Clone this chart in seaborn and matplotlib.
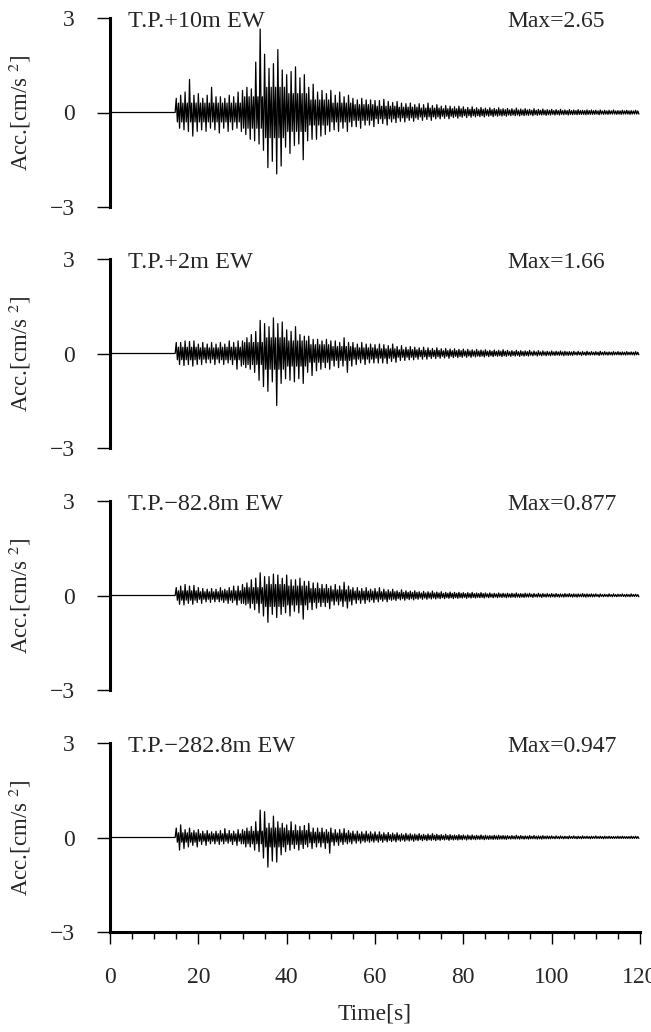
import numpy as np
import matplotlib
matplotlib.use('Agg')
import matplotlib.pyplot as plt
from matplotlib.ticker import MultipleLocator
import seaborn as sns

sns.set_style('ticks')
plt.rcParams['font.family'] = ['Liberation Serif', 'DejaVu Serif']
plt.rcParams['mathtext.fontset'] = 'stix'
plt.rcParams['axes.unicode_minus'] = True

# station names and peak values
stations = ['T.P.+10m EW', 'T.P.+2m EW', 'T.P.\u221282.8m EW', 'T.P.\u2212282.8m EW']
max_text = ['Max=2.65', 'Max=1.66', 'Max=0.877', 'Max=0.947']

# peak (upper) and trough (lower) acceleration read for each second, t = 0..119 s
up_1 = [0.0] * 15 + [
    0.45, 0.55, 0.65, 1.05, 0.55, 0.6, 0.45, 0.55, 0.8, 0.5,
    0.5, 0.45, 0.55, 0.5, 0.65, 0.7, 0.8, 0.75, 1.6, 2.65,
    1.85, 1.4, 1.55, 2.0, 1.35, 1.2, 1.3, 1.45, 1.1, 1.2,
    0.8, 0.9, 0.65, 0.7, 0.6, 0.7, 0.55, 0.65, 0.5, 0.55,
    0.45, 0.4, 0.45, 0.4, 0.4, 0.38,
    0.38, 0.42, 0.35, 0.32, 0.35, 0.3, 0.28, 0.3, 0.25, 0.28,
    0.25, 0.3, 0.22, 0.25, 0.2, 0.22, 0.2, 0.18, 0.2, 0.18,
    0.16, 0.18, 0.15, 0.16, 0.14, 0.15, 0.13, 0.15, 0.12, 0.13,
    0.12, 0.14, 0.11, 0.12, 0.1, 0.12, 0.1, 0.11, 0.09, 0.1,
    0.09, 0.1, 0.08, 0.09, 0.08, 0.09, 0.07, 0.08, 0.08, 0.07,
    0.08, 0.07, 0.07, 0.08, 0.06, 0.07, 0.07, 0.06, 0.07]
lo_1 = [0.0] * 15 + [
    -0.5, -0.55, -0.6, -0.75, -0.6, -0.55, -0.6, -0.5, -0.55, -0.65,
    -0.5, -0.6, -0.55, -0.5, -0.6, -0.7, -0.85, -0.9, -1.0, -1.2,
    -1.75, -1.55, -1.95, -1.7, -1.1, -1.3, -1.05, -1.0, -1.5, -0.9,
    -0.85, -0.85, -0.75, -0.7, -0.6, -0.55, -0.6, -0.5, -0.6, -0.45,
    -0.45, -0.5, -0.4, -0.4, -0.45, -0.35,
    -0.35, -0.4, -0.3, -0.32, -0.28, -0.3, -0.25, -0.28, -0.22, -0.25,
    -0.22, -0.25, -0.2, -0.2, -0.18, -0.2, -0.16, -0.18, -0.15, -0.16,
    -0.15, -0.14, -0.13, -0.14, -0.12, -0.13, -0.12, -0.11, -0.12, -0.1,
    -0.1, -0.11, -0.1, -0.09, -0.1, -0.09, -0.08, -0.09, -0.08, -0.08,
    -0.08, -0.07, -0.08, -0.07, -0.07, -0.06, -0.07, -0.06, -0.06, -0.07,
    -0.06, -0.06, -0.05, -0.06, -0.06, -0.05, -0.06, -0.05, -0.05]

up_2 = [0.0] * 15 + [
    0.35, 0.35, 0.4, 0.38, 0.4, 0.3, 0.35, 0.3, 0.35, 0.3,
    0.35, 0.3, 0.4, 0.35, 0.4, 0.4, 0.5, 0.6, 0.7, 1.05,
    0.95, 0.85, 1.13, 0.95, 1.0, 0.75, 0.7, 0.85, 0.6, 0.55,
    0.55, 0.45, 0.45, 0.4, 0.45, 0.4, 0.4, 0.35, 0.5, 0.35,
    0.35, 0.3, 0.35, 0.3, 0.3, 0.28,
    0.3, 0.28, 0.25, 0.3, 0.22, 0.25, 0.2, 0.22, 0.2, 0.18,
    0.2, 0.18, 0.16, 0.18, 0.15, 0.16, 0.14, 0.15, 0.13, 0.14,
    0.13, 0.12, 0.13, 0.11, 0.12, 0.1, 0.11, 0.1, 0.12, 0.1,
    0.09, 0.1, 0.09, 0.08, 0.1, 0.08, 0.09, 0.08, 0.07, 0.08,
    0.07, 0.08, 0.07, 0.06, 0.07, 0.07, 0.06, 0.07, 0.06, 0.06,
    0.07, 0.06, 0.05, 0.06, 0.06, 0.05, 0.06, 0.05, 0.06]
lo_2 = [0.0] * 15 + [
    -0.35, -0.38, -0.35, -0.4, -0.35, -0.35, -0.3, -0.3, -0.35, -0.3,
    -0.35, -0.3, -0.35, -0.5, -0.4, -0.45, -0.5, -0.6, -0.85, -1.05,
    -1.2, -0.9, -1.65, -0.95, -0.8, -0.85, -0.9, -0.8, -0.95, -0.6,
    -0.7, -0.55, -0.5, -0.45, -0.5, -0.4, -0.45, -0.4, -0.6, -0.4,
    -0.35, -0.3, -0.35, -0.3, -0.3, -0.3,
    -0.3, -0.32, -0.25, -0.28, -0.22, -0.22, -0.2, -0.2, -0.18, -0.18,
    -0.18, -0.16, -0.16, -0.15, -0.14, -0.15, -0.13, -0.13, -0.12, -0.12,
    -0.12, -0.11, -0.1, -0.11, -0.1, -0.1, -0.09, -0.1, -0.09, -0.09,
    -0.08, -0.09, -0.08, -0.08, -0.07, -0.08, -0.07, -0.07, -0.07, -0.06,
    -0.06, -0.07, -0.06, -0.06, -0.05, -0.06, -0.06, -0.05, -0.05, -0.06,
    -0.05, -0.05, -0.05, -0.04, -0.05, -0.05, -0.04, -0.05, -0.04]

up_3 = [0.0] * 15 + [
    0.25, 0.3, 0.35, 0.3, 0.32, 0.25, 0.22, 0.2, 0.22, 0.2,
    0.25, 0.2, 0.25, 0.3, 0.3, 0.35, 0.4, 0.5, 0.55, 0.72,
    0.6, 0.6, 0.68, 0.65, 0.55, 0.65, 0.5, 0.5, 0.55, 0.45,
    0.45, 0.4, 0.4, 0.35, 0.35, 0.3, 0.35, 0.3, 0.42, 0.3,
    0.25, 0.25, 0.22, 0.25, 0.2, 0.22,
    0.25, 0.2, 0.18, 0.2, 0.15, 0.18, 0.15, 0.14, 0.15, 0.12,
    0.13, 0.12, 0.14, 0.11, 0.12, 0.1, 0.11, 0.1, 0.1, 0.09,
    0.09, 0.1, 0.08, 0.09, 0.08, 0.08, 0.07, 0.08, 0.07, 0.07,
    0.07, 0.08, 0.06, 0.07, 0.07, 0.06, 0.07, 0.06, 0.06, 0.06,
    0.06, 0.05, 0.06, 0.06, 0.05, 0.05, 0.06, 0.05, 0.05, 0.05,
    0.05, 0.04, 0.05, 0.05, 0.04, 0.05, 0.04, 0.05, 0.04]
lo_3 = [0.0] * 15 + [
    -0.28, -0.3, -0.25, -0.28, -0.22, -0.25, -0.2, -0.22, -0.2, -0.2,
    -0.22, -0.25, -0.22, -0.3, -0.25, -0.3, -0.4, -0.45, -0.55, -0.65,
    -0.85, -0.6, -0.7, -0.6, -0.55, -0.65, -0.5, -0.55, -0.75, -0.45,
    -0.45, -0.4, -0.35, -0.35, -0.42, -0.3, -0.3, -0.35, -0.4, -0.3,
    -0.25, -0.25, -0.25, -0.2, -0.22, -0.2,
    -0.18, -0.2, -0.15, -0.16, -0.14, -0.15, -0.13, -0.14, -0.12, -0.12,
    -0.12, -0.11, -0.11, -0.1, -0.1, -0.09, -0.1, -0.09, -0.08, -0.09,
    -0.08, -0.08, -0.07, -0.08, -0.07, -0.07, -0.07, -0.06, -0.07, -0.06,
    -0.06, -0.06, -0.06, -0.05, -0.06, -0.05, -0.06, -0.05, -0.05, -0.05,
    -0.05, -0.05, -0.04, -0.05, -0.05, -0.04, -0.05, -0.04, -0.04, -0.05,
    -0.04, -0.04, -0.04, -0.04, -0.03, -0.04, -0.04, -0.03, -0.04]

up_4 = [0.0] * 15 + [
    0.3, 0.4, 0.25, 0.3, 0.22, 0.25, 0.2, 0.22, 0.18, 0.2,
    0.22, 0.28, 0.22, 0.2, 0.25, 0.25, 0.3, 0.35, 0.5, 0.87,
    0.82, 0.45, 0.68, 0.5, 0.45, 0.4, 0.5, 0.4, 0.35, 0.38,
    0.45, 0.3, 0.3, 0.3, 0.25, 0.3, 0.25, 0.25, 0.28, 0.22,
    0.2, 0.2, 0.18, 0.2, 0.18, 0.18,
    0.18, 0.15, 0.16, 0.14, 0.15, 0.12, 0.13, 0.12, 0.11, 0.12,
    0.1, 0.11, 0.12, 0.1, 0.09, 0.1, 0.09, 0.08, 0.09, 0.08,
    0.08, 0.08, 0.07, 0.08, 0.07, 0.06, 0.07, 0.07, 0.06, 0.06,
    0.06, 0.07, 0.06, 0.05, 0.06, 0.06, 0.05, 0.06, 0.05, 0.05,
    0.05, 0.05, 0.04, 0.05, 0.05, 0.04, 0.05, 0.04, 0.04, 0.05,
    0.04, 0.04, 0.04, 0.03, 0.04, 0.04, 0.03, 0.04, 0.04]
lo_4 = [0.0] * 15 + [
    -0.4, -0.35, -0.3, -0.25, -0.3, -0.22, -0.25, -0.2, -0.2, -0.22,
    -0.2, -0.18, -0.22, -0.25, -0.2, -0.3, -0.3, -0.4, -0.45, -0.65,
    -0.94, -0.75, -0.78, -0.55, -0.45, -0.4, -0.35, -0.4, -0.35, -0.3,
    -0.35, -0.3, -0.3, -0.35, -0.5, -0.25, -0.25, -0.22, -0.2, -0.2,
    -0.18, -0.18, -0.15, -0.15, -0.15, -0.15,
    -0.15, -0.14, -0.13, -0.14, -0.12, -0.12, -0.11, -0.12, -0.1, -0.1,
    -0.1, -0.09, -0.1, -0.09, -0.08, -0.09, -0.08, -0.08, -0.07, -0.08,
    -0.07, -0.07, -0.06, -0.07, -0.06, -0.06, -0.06, -0.05, -0.06, -0.05,
    -0.05, -0.05, -0.05, -0.05, -0.04, -0.05, -0.05, -0.04, -0.04, -0.04,
    -0.04, -0.04, -0.04, -0.03, -0.04, -0.04, -0.03, -0.04, -0.03, -0.03,
    -0.04, -0.03, -0.03, -0.03, -0.03, -0.03, -0.03, -0.03, -0.03]

# half-width of the dense black core of each trace, per 5 s block (0..115 s)
core_1 = [0, 0, 0, 0.3, 0.3, 0.3, 0.5, 0.8, 0.6, 0.4, 0.3, 0.25, 0.2,
          0.17, 0.14, 0.12, 0.1, 0.09, 0.08, 0.07, 0.06, 0.06, 0.05, 0.05]
core_2 = [0, 0, 0, 0.2, 0.18, 0.2, 0.35, 0.5, 0.4, 0.28, 0.22, 0.18, 0.15,
          0.12, 0.1, 0.09, 0.08, 0.07, 0.06, 0.05, 0.05, 0.04, 0.04, 0.04]
core_3 = [0, 0, 0, 0.15, 0.12, 0.15, 0.25, 0.35, 0.3, 0.22, 0.18, 0.14, 0.12,
          0.1, 0.08, 0.07, 0.06, 0.05, 0.05, 0.04, 0.04, 0.04, 0.03, 0.03]
core_4 = [0, 0, 0, 0.15, 0.12, 0.12, 0.2, 0.3, 0.22, 0.17, 0.14, 0.11, 0.09,
          0.08, 0.07, 0.06, 0.05, 0.05, 0.04, 0.04, 0.03, 0.03, 0.03, 0.03]

uppers = [up_1, up_2, up_3, up_4]
lowers = [lo_1, lo_2, lo_3, lo_4]
cores = [core_1, core_2, core_3, core_4]

fig = plt.figure(figsize=(6.51, 10.32), dpi=100)
bottoms = [1 - 207 / 1032, 1 - 448 / 1032, 1 - 690 / 1032, 1 - 932 / 1032]
left, width, height = 110 / 651, 530 / 651, 189 / 1032
fs = 17

for i in range(4):
    ax = fig.add_axes([left, bottoms[i], width, height])
    sec = np.arange(len(uppers[i]))
    core = np.repeat(cores[i], 5)
    # each second: peak, core trough, core crest, trough
    t = np.column_stack([sec, sec + 0.25, sec + 0.5, sec + 0.75]).ravel()
    a = np.column_stack([uppers[i], -core, core, lowers[i]]).ravel()
    sns.lineplot(x=t, y=a, ax=ax, color='black', linewidth=0.9,
                 estimator=None, sort=False)

    ax.set_xlim(0, 120)
    ax.set_ylim(-3, 3)
    ax.set_yticks([-3, 0, 3])
    ax.set_yticklabels(['\u22123', '0', '3'])
    ax.tick_params(axis='y', direction='out', length=9.5, width=1.0,
                   pad=16, labelsize=fs, color='black')
    for s in ['top', 'right']:
        ax.spines[s].set_visible(False)
    ax.spines['left'].set_linewidth(2.2)
    ax.spines['left'].set_color('black')
    ax.set_ylabel('Acc.[cm/s $^2$]', fontsize=16.5)
    ax.yaxis.set_label_coords(-0.145, 0.5)

    ax.text(4.1, 2.7, stations[i], fontsize=17.5, ha='left', va='baseline')
    ax.text(90, 2.7, max_text[i], fontsize=fs, ha='left', va='baseline')

    if i < 3:
        ax.spines['bottom'].set_visible(False)
        ax.set_xticks([])
    else:
        ax.spines['bottom'].set_linewidth(2.2)
        ax.spines['bottom'].set_color('black')
        ax.xaxis.set_major_locator(MultipleLocator(20))
        ax.xaxis.set_minor_locator(MultipleLocator(5))
        ax.tick_params(axis='x', which='major', direction='out', length=8.5,
                       width=1.0, pad=17, labelsize=fs, color='black')
        ax.tick_params(axis='x', which='minor', direction='out', length=5,
                       width=1.0, color='black')
        ax.set_xlabel('Time[s]', fontsize=fs, labelpad=11)

fig.savefig('out.png', dpi=100)
